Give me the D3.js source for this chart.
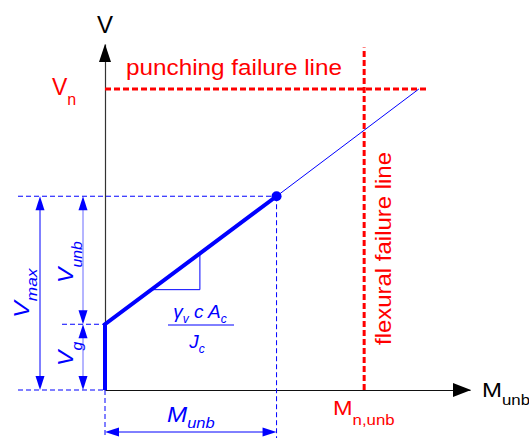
<!DOCTYPE html>
<html>
<head>
<meta charset="utf-8">
<script src="https://cdn.jsdelivr.net/npm/d3@7"></script>
<style>
  body { margin: 0; background: #fff; }
  text { font-family: "Liberation Sans", Arial, sans-serif; }
</style>
</head>
<body>
<div id="chart"></div>
<script>
// Data (M = unbalanced moment, V = shear), arbitrary units
const responsePath = [[0, 0], [0, 19], [47, 56]];   // thick blue: Vg then slope up to (Munb, Vmax)
const extension = [[47, 56], [86, 87]];             // thin blue continuation
const peakPoint = [47, 56];
const Vg = 19, Vmax = 56, Munb = 47;
const Vn = 87, VnLineEnd = 88;
const MnUnb = 71, flexTop = 99;
const slopeLegs = [[26, 39.3], [26, 29], [13, 29]];

const W = 529, H = 438;
const blue = "#0000ff", red = "#ff0000";

const svg = d3.select("#chart").append("svg")
  .attr("width", W).attr("height", H);

// Scales
const x = d3.scaleLinear().domain([0, 100]).range([105, 470]);
const y = d3.scaleLinear().domain([0, 100]).range([390, 44]);

// Axes (no ticks, just the domain lines)
svg.append("g")
  .attr("transform", `translate(0,${y(0)})`)
  .call(d3.axisBottom(x).tickValues([]).tickSizeOuter(0))
  .select(".domain").attr("stroke", "#111").attr("stroke-width", 1.2);
svg.append("g")
  .attr("transform", `translate(${x(0)},0)`)
  .call(d3.axisLeft(y).tickValues([]).tickSizeOuter(0))
  .select(".domain").attr("stroke", "#333").attr("stroke-width", 1.2);

// arrowhead helper: tip at (tx,ty), direction (dx,dy), length L, half width w
function arrowHead(tx, ty, dx, dy, L, w, color) {
  const px = -dy, py = dx;
  const bx = tx - dx * L, by = ty - dy * L;
  svg.append("path")
    .attr("d", `M${tx},${ty}L${bx + px * w},${by + py * w}L${bx - px * w},${by - py * w}Z`)
    .attr("fill", color);
}
arrowHead(x(0), 44, 0, -1, 18, 6, "#000");
arrowHead(471, y(0), 1, 0, 18, 7, "#000");

// Red failure lines
svg.append("line")
  .attr("x1", x(0)).attr("x2", x(VnLineEnd))
  .attr("y1", y(Vn)).attr("y2", y(Vn))
  .attr("stroke", red).attr("stroke-width", 3).attr("stroke-dasharray", "6,3");
svg.append("line")
  .attr("x1", x(MnUnb)).attr("x2", x(MnUnb))
  .attr("y1", y(0)).attr("y2", y(flexTop))
  .attr("stroke", red).attr("stroke-width", 3).attr("stroke-dasharray", "6,3");

// Blue dashed guides
const guide = (x1, y1, x2, y2) => svg.append("line")
  .attr("x1", x1).attr("y1", y1).attr("x2", x2).attr("y2", y2)
  .attr("stroke", blue).attr("stroke-width", 1).attr("stroke-dasharray", "5,3");
guide(18, y(Vmax), x(Munb), y(Vmax));
guide(18, y(0), x(0), y(0));
guide(62, y(Vg), x(0), y(Vg));
guide(x(0), y(0), x(0), H);
guide(x(Munb), y(Vmax), x(Munb), H);

// Response lines
const line = d3.line().x(d => x(d[0])).y(d => y(d[1]));
svg.append("path").datum(extension)
  .attr("d", line).attr("fill", "none")
  .attr("stroke", blue).attr("stroke-width", 1);
svg.append("path").datum(responsePath)
  .attr("d", line).attr("fill", "none")
  .attr("stroke", blue).attr("stroke-width", 4).attr("stroke-linejoin", "miter");
svg.append("circle")
  .attr("cx", x(peakPoint[0])).attr("cy", y(peakPoint[1])).attr("r", 5)
  .attr("fill", blue);

// Slope triangle
svg.append("path").datum(slopeLegs)
  .attr("d", line).attr("fill", "none")
  .attr("stroke", blue).attr("stroke-width", 1);

// Dimension arrows
function dimV(xp, v1, v2, stroke) {
  const yTop = y(v2), yBot = y(v1);
  svg.append("line").attr("x1", xp).attr("x2", xp).attr("y1", yTop + 4).attr("y2", yBot - 4)
    .attr("stroke", stroke).attr("stroke-width", 1);
  arrowHead(xp, yTop, 0, -1, 14, 4.5, blue);
  arrowHead(xp, yBot, 0, 1, 14, 4.5, blue);
}
dimV(40, 0, Vmax, blue);
dimV(83, Vg, Vmax, "#6a6aff");
dimV(83, 0, Vg, "#6a6aff");
svg.append("line").attr("x1", x(0) + 4).attr("x2", x(Munb) - 4).attr("y1", 432).attr("y2", 432)
  .attr("stroke", blue).attr("stroke-width", 1);
arrowHead(x(0), 432, -1, 0, 14, 4.5, blue);
arrowHead(x(Munb), 432, 1, 0, 14, 4.5, blue);

// Labels: main text + subscript
function label(px, py, main, sub, o) {
  const t = svg.append("text")
    .attr("transform", `translate(${px},${py})` + (o.rot ? " rotate(-90)" : "") + (o.sx ? ` scale(${o.sx},1)` : ""))
    .attr("fill", o.color)
    .attr("font-size", o.size)
    .attr("font-style", o.italic ? "italic" : "normal")
    .attr("text-anchor", o.anchor || "start");
  t.append("tspan").text(main);
  if (sub) t.append("tspan").attr("font-size", o.subSize).attr("dy", o.subDy).text(sub);
  return t;
}

label(97, 33, "V", null, {color: "#000", size: 24});
label(52, 95, "V", "n", {color: red, size: 23, subSize: 16, subDy: 10});
svg.append("text").attr("x", 126).attr("y", 75).attr("fill", red).attr("font-size", 22)
  .attr("textLength", 216).attr("lengthAdjust", "spacingAndGlyphs").text("punching failure line");
svg.append("text").attr("transform", "translate(391,345) rotate(-90)").attr("fill", red).attr("font-size", 22)
  .attr("textLength", 193).attr("lengthAdjust", "spacingAndGlyphs").text("flexural failure line");
label(482, 397, "M", "unb", {color: "#000", size: 20, subSize: 14, subDy: 8, sx: 1.2});
label(333, 415, "M", "n,unb", {color: red, size: 21, subSize: 15, subDy: 10, sx: 1.12});

label(29, 318, "V", "max", {color: blue, size: 22, subSize: 15, subDy: 8, italic: true, rot: true, sx: 1.15});
label(73, 283, "V", "unb", {color: blue, size: 22, subSize: 15, subDy: 9, italic: true, rot: true, sx: 1.05});
label(73, 366, "V", "g", {color: blue, size: 22, subSize: 15, subDy: 9, italic: true, rot: true, sx: 1.05});
label(167, 422, "M", "unb", {color: blue, size: 22, subSize: 15, subDy: 6, italic: true, sx: 1.1});

// Slope formula
const num = svg.append("text").attr("x", 200).attr("y", 318).attr("text-anchor", "middle")
  .attr("fill", blue).attr("font-size", 19).attr("font-style", "italic");
num.append("tspan").text("γ");
num.append("tspan").attr("font-size", 12).attr("dy", 5).text("v");
num.append("tspan").attr("dy", -5).text(" c A");
num.append("tspan").attr("font-size", 12).attr("dy", 5).text("c");
svg.append("line").attr("x1", 168).attr("x2", 234).attr("y1", 325).attr("y2", 325)
  .attr("stroke", blue).attr("stroke-width", 1);
const den = svg.append("text").attr("x", 197).attr("y", 348).attr("text-anchor", "middle")
  .attr("fill", blue).attr("font-size", 19).attr("font-style", "italic");
den.append("tspan").text("J");
den.append("tspan").attr("font-size", 12).attr("dy", 5).text("c");
</script>
</body>
</html>
